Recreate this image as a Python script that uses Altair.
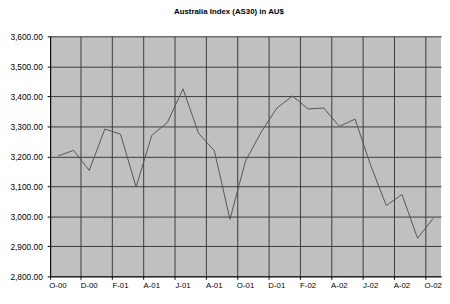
import altair as alt
import pandas as pd

months = ["Oct-00", "Nov-00", "Dec-00", "Jan-01", "Feb-01", "Mar-01", "Apr-01",
          "May-01", "Jun-01", "Jul-01", "Aug-01", "Sep-01", "Oct-01", "Nov-01",
          "Dec-01", "Jan-02", "Feb-02", "Mar-02", "Apr-02", "May-02", "Jun-02",
          "Jul-02", "Aug-02", "Sep-02", "Oct-02"]
values = [3201, 3220, 3153, 3291, 3274, 3098, 3270, 3313, 3425, 3276, 3219,
          2990, 3185, 3281, 3361, 3401, 3358, 3361, 3300, 3324, 3170, 3036,
          3073, 2927, 2993]
tick_months = months[::2]
y_ticks = [2800, 2900, 3000, 3100, 3200, 3300, 3400, 3500, 3600]

df = pd.DataFrame({"month": months, "value": values})

FONT = "Liberation Sans"

chart = alt.Chart(df).mark_line(color="#555555", strokeWidth=1).encode(
    x=alt.X("month:O", sort=months,
            scale=alt.Scale(type="band", paddingInner=0, paddingOuter=0),
            axis=alt.Axis(values=tick_months, bandPosition=0, title=None,
                          labelAngle=0, labelFont=FONT, labelFontSize=8,
                          labelColor="#000000",
                          labelExpr="substring(datum.value,0,1)+'-'+substring(datum.value,4,6)",
                          tickSize=3, tickColor="#000000", labelPadding=2,
                          domainColor="#000000", gridColor="#3a3a3a",
                          gridOpacity=1, grid=True)),
    y=alt.Y("value:Q",
            scale=alt.Scale(domain=[2800, 3600], nice=False, zero=False),
            axis=alt.Axis(values=y_ticks, format=",.2f", title=None,
                          labelFont=FONT, labelFontSize=8.5, labelColor="#000000",
                          tickSize=3, tickColor="#000000", labelPadding=5,
                          domainColor="#000000", gridColor="#3a3a3a",
                          gridOpacity=1, minExtent=43, maxExtent=43)),
).properties(
    width=399, height=245,
    title=alt.TitleParams("Australia Index (AS30) in AU$", font=FONT, fontSize=8,
                          fontWeight="bold", color="#000000", offset=17, dx=-17),
    padding={"left": 0, "top": -3, "right": 0, "bottom": -3},
).configure_view(fill="#C0C0C0", stroke=None)

chart.save("out.html", embed_options={"renderer": "svg", "actions": False})
